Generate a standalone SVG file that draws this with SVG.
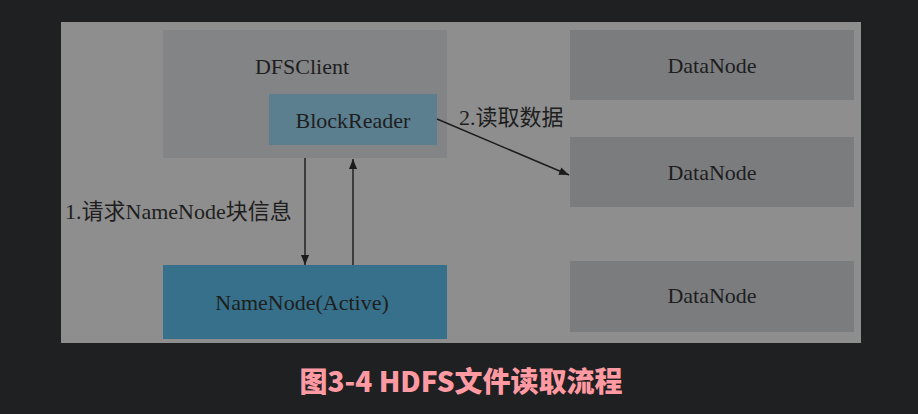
<svg xmlns="http://www.w3.org/2000/svg" width="918" height="414" viewBox="0 0 918 414">
<defs>
<marker id="ah" viewBox="0 0 10 10" refX="10" refY="5" markerWidth="10" markerHeight="10" markerUnits="userSpaceOnUse" orient="auto">
<path d="M0,1 L10,5 L0,9 Z" fill="#1c1c1c"/>
</marker>
<style>
.lbl{font-family:"Liberation Serif","Noto Sans CJK SC",serif;font-size:22px;fill:#1e1e1e}
.c{text-anchor:middle}
.conn{stroke:#1c1c1c;stroke-width:1.4;fill:none;marker-end:url(#ah)}
</style>
</defs>
<rect x="0" y="0" width="918" height="414" fill="#1f2022"/>
<rect x="61" y="22" width="800" height="321" fill="#8e8e8e"/>
<g id="dfsclient">
<rect x="163" y="30" width="284" height="128" fill="#838486"/>
<text class="lbl c" x="302" y="74">DFSClient</text>
</g>
<g id="blockreader">
<rect x="269" y="94" width="168" height="51" fill="#5b7f8f"/>
<text class="lbl c" x="353" y="128">BlockReader</text>
</g>
<g id="namenode">
<rect x="163" y="265" width="284" height="74" fill="#37708a"/>
<text class="lbl c" x="302" y="310">NameNode(Active)</text>
</g>
<g id="datanode1">
<rect x="570" y="30" width="284" height="70" fill="#7b7c7e"/>
<text class="lbl c" x="712" y="73">DataNode</text>
</g>
<g id="datanode2">
<rect x="570" y="137" width="284" height="70" fill="#7b7c7e"/>
<text class="lbl c" x="712" y="180">DataNode</text>
</g>
<g id="datanode3">
<rect x="570" y="261" width="284" height="71" fill="#7b7c7e"/>
<text class="lbl c" x="712" y="303">DataNode</text>
</g>
<g id="connectors">
<line class="conn" x1="305" y1="158" x2="305" y2="265"/>
<line class="conn" x1="353" y1="265" x2="353" y2="159"/>
<line class="conn" x1="437" y1="119" x2="569" y2="175"/>
<text class="lbl" x="65" y="219">1.请求NameNode块信息</text>
<text class="lbl" x="459" y="125">2.读取数据</text>
</g>
<text x="461" y="392" text-anchor="middle" font-family="Noto Sans CJK SC, sans-serif" font-weight="900" font-size="28" fill="#ff9aa2">图3-4 HDFS文件读取流程</text>
</svg>
